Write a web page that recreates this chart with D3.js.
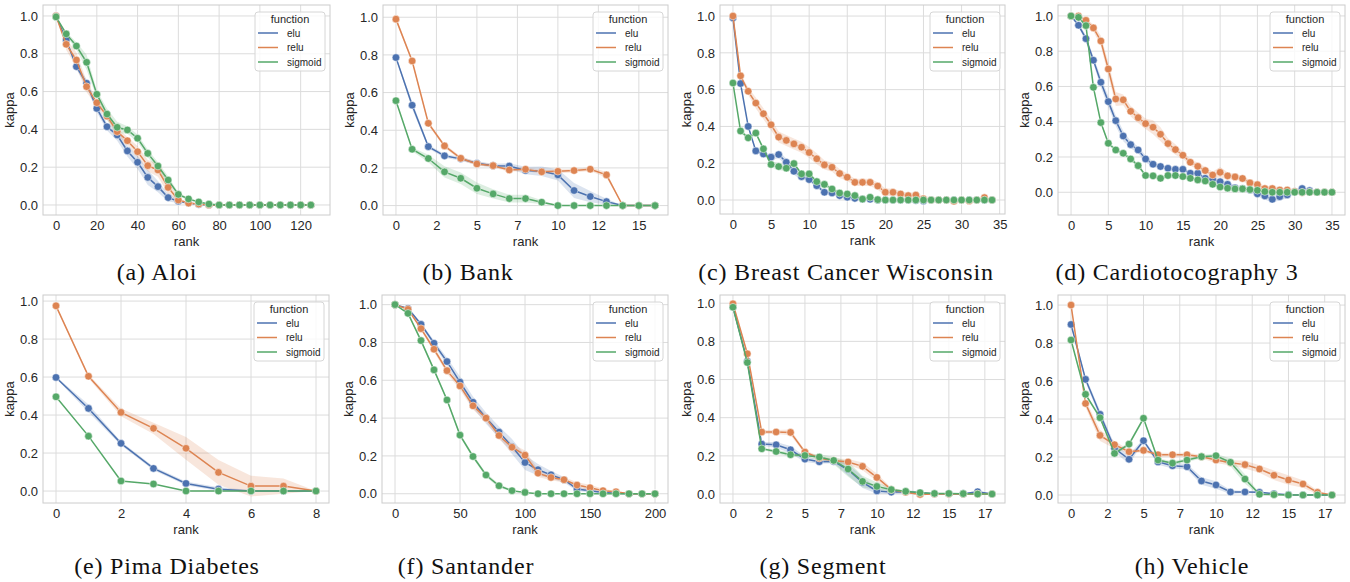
<!DOCTYPE html>
<html>
<head>
<meta charset="utf-8">
<script src="https://cdn.jsdelivr.net/npm/d3@7"></script>
<style>
  body { margin: 0; background: #fff; }
  svg { display: block; }
  .tick text { font-family: "Liberation Sans", Arial, sans-serif; font-size: 13px; fill: #262626; }
  .lab { font-family: "Liberation Sans", Arial, sans-serif; font-size: 13px; fill: #262626; }
  .leg { font-family: "Liberation Sans", Arial, sans-serif; font-size: 10px; fill: #262626; }
  .cap { font-family: "Liberation Serif", "DejaVu Serif", serif; font-size: 24px; letter-spacing: 0.8px; fill: #111; }
</style>
</head>
<body>
<svg id="fig" width="1350" height="582"></svg>
<script>
// series names + seaborn "deep" colours
var funcs = ["elu", "relu", "sigmoid"];
var colors = ["#4C72B0", "#DD8452", "#55A868"];

// (a) Aloi
var aloiRank = [0,5,10,15,20,25,30,35,40,45,50,55,60,65,70,75,80,85,90,95,100,105,110,115,120,125];
var aloiElu = [1.0,.873,.732,.644,.511,.414,.370,.286,.226,.146,.097,.039,.020,.010,.003,0,0,0,0,0,0,0,0,0,0,0];
var aloiRelu = [1.0,.85,.767,.626,.541,.47,.388,.34,.282,.208,.185,.093,.026,.01,.005,0,0,0,0,0,0,0,0,0,0,0];
var aloiSigmoid = [.995,.905,.841,.755,.586,.481,.411,.397,.353,.273,.206,.132,.056,.032,.016,.005,0,0,0,0,0,0,0,0,0,0];
var aloiEluCi = [0,.01,.015,.02,.02,.02,.03,.03,.035,.04,.03,.02,.01,.005];
var aloiReluCi = [0,.03,.04,.03,.02,.02,.02,.02,.03,.03,.035,.035,.01,.005];
var aloiSigmoidCi = [0,.01,.02,.04,.02,.03,.03,.02,.02,.02,.02,.02,.01,.005];

// (b) Bank
var bankRank = [0,1,2,3,4,5,6,7,8,9,10,11,12,13,14,15,16];
var bankElu = [.786,.533,.313,.264,.248,.225,.212,.21,.186,.182,.163,.08,.048,.021,0,0,0];
var bankRelu = [.99,.768,.437,.317,.251,.221,.212,.189,.193,.179,.182,.186,.193,.163,0,0,0];
var bankSigmoid = [.557,.299,.25,.179,.145,.092,.062,.037,.037,.018,0,0,0,0,0,0,0];
var bankEluCi = [.005,.02,.01,.01,.01,.01,.01,.015,.02,.025,.03,.04,.03,.015];
var bankReluCi = [.01,.01,.01,.01,.01,.01,.01,.01,.01,.01,.01,.01,.01,.015];
var bankSigmoidCi = [.005,.01,.02,.03,.03,.03,.025,.02,.02,.01];

// (c) Breast Cancer Wisconsin
var bcwRank = [0,1,2,3,4,5,6,7,8,9,10,11,12,13,14,15,16,17,18,19,20,21,22,23,24,25,26,27,28,29,30,31,32,33,34];
var bcwElu = [.99,.633,.4,.267,.25,.233,.247,.205,.156,.127,.111,.078,.042,.038,.024,.015,.009,.004,.004,0,0,0,0,0,-.003,-.005,0,0,0,0,0,0,0,0,0];
var bcwRelu = [1.0,.675,.591,.527,.469,.409,.342,.324,.305,.287,.258,.224,.191,.178,.144,.124,.096,.096,.096,.076,.042,.042,.033,.024,.027,.007,0,0,0,-.007,0,-.005,0,.013,0];
var bcwSigmoid = [.636,.375,.338,.364,.278,.193,.182,.173,.198,.142,.142,.1,.085,.06,.038,.033,.024,.005,.015,.002,0,0,0,0,0,0,0,0,0,0,0,0,0,0,0];
var bcwEluCi = [0,.01,.01,.01,.01,.015,.02,.02,.02,.015,.01,.01,.01,.01,.01,.005,.005,.005];
var bcwReluCi = [0,.01,.02,.03,.03,.03,.03,.03,.03,.03,.03,.03,.025,.025,.025,.02,.02,.02,.02,.02,.02,.02,.015,.015,.015,.015,.015,.01,.01,.01,.01,.01,.01,.01];
var bcwSigmoidCi = [0,.01,.01,.01,.01,.015,.02,.015,.01,.01,.01,.01,.01,.01,.01,.005];

// (d) Cardiotocography 3
var cardioRank = [0,1,2,3,4,5,6,7,8,9,10,11,12,13,14,15,16,17,18,19,20,21,22,23,24,25,26,27,28,29,30,31,32,33,34,35];
var cardioElu = [1.0,.947,.871,.749,.624,.514,.406,.319,.27,.24,.189,.159,.146,.136,.13,.13,.108,.108,.079,.074,.06,.045,.025,.021,.013,-.009,-.021,-.04,-.025,-.015,.004,.021,.009,0,0,0];
var cardioRelu = [1.0,1.0,.975,.932,.858,.699,.529,.524,.459,.423,.389,.369,.329,.276,.242,.21,.17,.147,.123,.098,.113,.093,.087,.078,.053,.043,.021,.021,.013,.013,.004,-.002,0,0,0,0];
var cardioSigmoid = [1.0,.992,.945,.595,.395,.278,.24,.221,.189,.151,.095,.093,.079,.095,.095,.089,.079,.07,.064,.045,.03,.023,.019,.019,.015,.011,.004,0,0,0,0,0,0,0,0,0];
var cardioEluCi = [0,.01,.02,.02,.03,.03,.03,.03,.02,.02,.02,.015,.01,.01,.01,.01,.01,.01,.01,.01,.015,.015,.015,.015,.015,.015,.02,.02,.02,.02,.015,.01];
var cardioReluCi = [0,.005,.01,.02,.03,.04,.04,.03,.03,.03,.03,.04,.04,.03,.03,.02,.02,.02,.02,.02,.03,.02,.015,.015,.015,.015,.015,.015,.015,.01,.01,.01];
var cardioSigmoidCi = [0,0,.01,.01,.01,.01,.01,.01,.01,.01,.01,.01,.01,.01,.01,.01,.01,.01,.01,.01,.01];

// (e) Pima Diabetes
var pimaRank = [0,1,2,3,4,5,6,7,8];
var pimaElu = [.598,.435,.251,.119,.04,.01,0,0,0];
var pimaRelu = [.975,.604,.414,.33,.225,.098,.026,.026,0];
var pimaSigmoid = [.496,.289,.053,.037,0,0,0,0,0];
var pimaEluCi = [.005,.02,.01,.01,.01,.01,.005];
var pimaReluCi = [.005,.01,.02,.03,.06,.065,.055,.04,0];
var pimaSigmoidCi = [0];

// (f) Santander
var santRank = [0,10,20,30,40,50,60,70,80,90,100,110,120,130,140,150,160,170,180,190,200];
var santElu = [1.0,.98,.896,.796,.699,.59,.484,.4,.326,.25,.165,.127,.1,.074,.025,.016,.007,.002,0,0,0];
var santRelu = [1.0,.975,.873,.764,.651,.57,.465,.4,.308,.246,.204,.109,.086,.074,.046,.032,.016,.01,0,0,0];
var santSigmoid = [1.0,.954,.81,.655,.496,.31,.197,.099,.042,.016,.007,0,0,0,0,0,0,0,0,0,0];
var santEluCi = [0,.005,.01,.015,.02,.03,.03,.03,.03,.04,.04,.03,.02,.015,.01,.01,.005];
var santReluCi = [0,.005,.01,.015,.015,.02,.02,.02,.02,.02,.025,.02,.015,.015,.015,.015,.01,.005];
var santSigmoidCi = [0,.005,.01,.01,.01,.01,.01,.01,.01,.005];

// (g) Segment
var segRank = [0,1,2,3,4,5,6,7,8,9,10,11,12,13,14,15,16,17,18];
var segElu = [.98,.695,.262,.258,.232,.183,.169,.171,.127,.061,.016,.01,.012,.007,.002,.002,.002,.012,0];
var segRelu = [.997,.735,.325,.325,.323,.22,.188,.176,.168,.145,.087,.023,.009,-.002,0,0,0,0,0];
var segSigmoid = [.979,.689,.237,.223,.206,.202,.194,.176,.131,.066,.04,.023,.014,.007,.003,.003,.002,0,0];
var segEluCi = [.005,.01,.01,.015,.02,.015,.01,.01,.03,.03,.015,.01,.01,.005];
var segReluCi = [.005,.01,.01,.01,.015,.01,.01,.01,.015,.02,.02,.01,.005,.005];
var segSigmoidCi = [.005,.01,.005,.01,.01,.01,.015,.02,.04,.03,.02,.01,.005];

// (h) Vehicle
var vehRank = [0,1,2,3,4,5,6,7,8,9,10,11,12,13,14,15,16,17,18];
var vehElu = [.898,.609,.425,.246,.188,.286,.174,.154,.149,.074,.053,.016,.016,.014,.007,.002,0,0,0];
var vehRelu = [1.0,.482,.314,.265,.228,.235,.212,.212,.212,.202,.184,.17,.16,.137,.104,.079,.058,.014,0];
var vehSigmoid = [.816,.53,.407,.219,.268,.404,.184,.168,.184,.202,.207,.172,.084,.004,.002,0,0,0,0];
var vehEluCi = [.01,.015,.02,.02,.025,.01,.015,.015,.015,.02,.02,.01,.005,.005];
var vehReluCi = [.005,.02,.03,.02,.01,.01,.01,.01,.01,.01,.015,.015,.02,.02,.025,.025,.02,.01];
var vehSigmoidCi = [.005,.01,.01,.01,.01,.01,.01,.01,.01,.01,.01,.02,.025,.005];

// tick values / labels
var kappaTicks = [0, 0.2, 0.4, 0.6, 0.8, 1.0];
var aloiTicks = [0, 20, 40, 60, 80, 100, 120];
var halfTicks = [0, 2.5, 5, 7.5, 10, 12.5, 15, 17.5];
var fiveTicks = [0, 5, 10, 15, 20, 25, 30, 35];
var pimaTicks = [0, 2, 4, 6, 8];
var santTicks = [0, 50, 100, 150, 200];

var captions = ["(a) Aloi", "(b) Bank", "(c) Breast Cancer Wisconsin", "(d) Cardiotocography 3",
                "(e) Pima Diabetes", "(f) Santander", "(g) Segment", "(h) Vehicle"];

var panels = [
  {rank: aloiRank, ys: [aloiElu, aloiRelu, aloiSigmoid], ci: [aloiEluCi, aloiReluCi, aloiSigmoidCi],
   x0: 43, x1: 330, y0: 5, y1: 215, xd: [-6.4, 134.4], yd: [-0.053, 1.058], xt: aloiTicks, cx: 157, cy: 280},
  {rank: bankRank, ys: [bankElu, bankRelu, bankSigmoid], ci: [bankEluCi, bankReluCi, bankSigmoidCi],
   x0: 383, x1: 668, y0: 5, y1: 215, xd: [-0.8, 16.8], yd: [-0.05, 1.065], xt: halfTicks.slice(0, 7), cx: 468, cy: 280},
  {rank: bcwRank, ys: [bcwElu, bcwRelu, bcwSigmoid], ci: [bcwEluCi, bcwReluCi, bcwSigmoidCi],
   x0: 720, x1: 1005, y0: 5, y1: 214, xd: [-1.7, 35.7], yd: [-0.076, 1.06], xt: fiveTicks, cx: 846, cy: 280},
  {rank: cardioRank, ys: [cardioElu, cardioRelu, cardioSigmoid], ci: [cardioEluCi, cardioReluCi, cardioSigmoidCi],
   x0: 1058, x1: 1345, y0: 5, y1: 215, xd: [-1.75, 36.75], yd: [-0.129, 1.062], xt: fiveTicks, cx: 1177, cy: 280},
  {rank: pimaRank, ys: [pimaElu, pimaRelu, pimaSigmoid], ci: [pimaEluCi, pimaReluCi, pimaSigmoidCi],
   x0: 43, x1: 329, y0: 295, y1: 503, xd: [-0.4, 8.4], yd: [-0.063, 1.032], xt: pimaTicks, cx: 167, cy: 574},
  {rank: santRank, ys: [santElu, santRelu, santSigmoid], ci: [santEluCi, santReluCi, santSigmoidCi],
   x0: 382, x1: 668, y0: 295, y1: 503, xd: [-10, 210], yd: [-0.049, 1.051], xt: santTicks, cx: 466, cy: 574},
  {rank: segRank, ys: [segElu, segRelu, segSigmoid], ci: [segEluCi, segReluCi, segSigmoidCi],
   x0: 720, x1: 1005, y0: 295, y1: 503, xd: [-0.9, 18.9], yd: [-0.047, 1.043], xt: halfTicks, cx: 823, cy: 574},
  {rank: vehRank, ys: [vehElu, vehRelu, vehSigmoid], ci: [vehEluCi, vehReluCi, vehSigmoidCi],
   x0: 1058, x1: 1345, y0: 295, y1: 503, xd: [-0.9, 18.9], yd: [-0.042, 1.053], xt: halfTicks, cx: 1192, cy: 574}
];

var svg = d3.select("#fig");

panels.forEach(function(p, pi) {
  var x = d3.scaleLinear().domain(p.xd).range([p.x0, p.x1]);
  var y = d3.scaleLinear().domain(p.yd).range([p.y1, p.y0]);
  var g = svg.append("g");

  // grid
  g.selectAll(".vg").data(p.xt).join("line")
    .attr("x1", d => x(d)).attr("x2", d => x(d))
    .attr("y1", p.y0).attr("y2", p.y1)
    .attr("stroke", "#dcdcdc").attr("stroke-width", 1);
  g.selectAll(".hg").data(kappaTicks).join("line")
    .attr("x1", p.x0).attr("x2", p.x1)
    .attr("y1", d => y(d)).attr("y2", d => y(d))
    .attr("stroke", "#dcdcdc").attr("stroke-width", 1);

  // axes (tick labels only, like seaborn whitegrid)
  var xAxis = d3.axisBottom(x).tickValues(p.xt).tickSize(0).tickPadding(6)
    .tickFormat(d => String(Math.trunc(d)));
  g.append("g").attr("transform", `translate(0,${p.y1})`).call(xAxis)
    .call(a => a.select(".domain").remove());
  var yAxis = d3.axisLeft(y).tickValues(kappaTicks).tickSize(0).tickPadding(5)
    .tickFormat(d3.format(".1f"));
  g.append("g").attr("transform", `translate(${p.x0},0)`).call(yAxis)
    .call(a => a.select(".domain").remove());

  // frame
  g.append("rect").attr("x", p.x0).attr("y", p.y0)
    .attr("width", p.x1 - p.x0).attr("height", p.y1 - p.y0)
    .attr("fill", "none").attr("stroke", "#cccccc").attr("stroke-width", 1);

  // axis labels
  g.append("text").attr("class", "lab").attr("text-anchor", "middle")
    .attr("x", (p.x0 + p.x1) / 2).attr("y", p.y1 + 31).text("rank");
  g.append("text").attr("class", "lab").attr("text-anchor", "middle")
    .attr("transform", `translate(${p.x0 - 29},${(p.y0 + p.y1) / 2}) rotate(-90)`).text("kappa");

  var plot = g.append("g");

  // confidence bands first, then lines and markers
  var area = d3.area()
    .x(d => x(d.r)).y0(d => y(d.v - d.c)).y1(d => y(d.v + d.c));
  var line = d3.line().x(d => x(d.r)).y(d => y(d.v));

  var series = p.ys.map(function(vals, si) {
    return p.rank.map((r, i) => ({r: r, v: vals[i], c: p.ci[si][i] || 0}));
  });

  series.forEach(function(s, si) {
    plot.append("path").datum(s).attr("d", area)
      .attr("fill", colors[si]).attr("fill-opacity", 0.2).attr("stroke", "none");
  });
  series.forEach(function(s, si) {
    plot.append("path").datum(s).attr("d", line)
      .attr("fill", "none").attr("stroke", colors[si]).attr("stroke-width", 1.5);
    plot.selectAll(null).data(s).join("circle")
      .attr("cx", d => x(d.r)).attr("cy", d => y(d.v)).attr("r", 3.8)
      .attr("fill", colors[si]).attr("stroke", "#fff").attr("stroke-width", 0.5);
  });

  // legend
  var lw = 70, lh = 59;
  var lx = p.x1 - 5 - lw, ly = p.y0 + 7;
  var leg = g.append("g").attr("transform", `translate(${lx},${ly})`);
  leg.append("rect").attr("width", lw).attr("height", lh).attr("rx", 3)
    .attr("fill", "#fff").attr("fill-opacity", 0.8)
    .attr("stroke", "#d6d6d6").attr("stroke-width", 1);
  leg.append("text").attr("class", "leg").style("font-size", "11px")
    .attr("x", lw / 2).attr("y", 11).attr("text-anchor", "middle").text("function");
  funcs.forEach(function(f, i) {
    var yy = 21 + i * 14.5;
    leg.append("line").attr("x1", 3).attr("x2", 23).attr("y1", yy).attr("y2", yy)
      .attr("stroke", colors[i]).attr("stroke-width", 1.5);
    leg.append("text").attr("class", "leg").attr("x", 32).attr("y", yy + 3.5).text(f);
  });

  // caption
  svg.append("text").attr("class", "cap").attr("text-anchor", "middle")
    .attr("x", p.cx).attr("y", p.cy).text(captions[pi]);
});
</script>
</body>
</html>
